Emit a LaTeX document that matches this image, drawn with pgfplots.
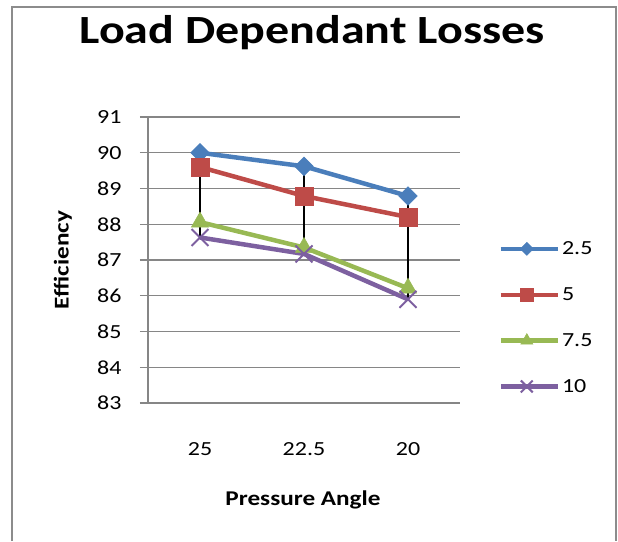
\documentclass[border=0pt]{standalone}
\usepackage{fontspec}
\setmainfont{Carlito}[FakeStretch=1.2]
\usepackage{pgfplots}
\pgfplotsset{compat=1.18}
\definecolor{sA}{HTML}{4A7EBB}
\definecolor{sB}{HTML}{BE4B48}
\definecolor{sC}{HTML}{98B954}
\definecolor{sD}{HTML}{7D60A0}
\definecolor{gridg}{HTML}{868686}
\definecolor{frameg}{HTML}{8C8C8C}
\begin{document}
\begin{tikzpicture}
\path[use as bounding box] (0pt,0pt) rectangle (618pt,541pt);
\draw[frameg, line width=2pt] (12pt,0pt) -- (12pt,534pt) -- (616pt,534pt) -- (616pt,0pt);
\begin{axis}[
  at={(148pt,138pt)}, anchor=south west,
  scale only axis, width=312pt, height=286pt,
  xmin=-0.5, xmax=2.5, ymin=83, ymax=91,
  xtick={0,1,2}, xticklabels={25,22.5,20},
  ytick={83,84,...,91},
  ymajorgrids, grid style={gridg, line width=1.3pt},
  axis x line=bottom, axis y line=left,
  axis line style={gridg, line width=1.3pt, -},
  xtick style={draw=none},
  ytick style={gridg, line width=1.3pt},
  tick align=outside, major tick length=8pt,
  /pgf/number format/assume math mode=true,
  ticklabel style={font=\fontsize{20}{24}\selectfont},
  yticklabel style={anchor=east, xshift=-15pt},
  xticklabel style={anchor=center, yshift=-38pt},
  title={\textbf{Load Dependant Losses}},
  title style={font=\fontsize{40}{48}\selectfont, at={(axis description cs:0.5,1)}, anchor=base, yshift=67pt, xshift=8pt},
  xlabel={\textbf{Pressure Angle}},
  xlabel style={font=\fontsize{21}{24}\selectfont, at={(axis description cs:0.5,0)}, anchor=center, yshift=-97pt, xshift=-1pt},
  ylabel={\textbf{Efficiency}},
  ylabel style={font=\fontsize{21}{24}\selectfont, at={(axis description cs:-0.2724,0.5)}, anchor=center},
  legend style={at={(1.123,0.572)}, anchor=north west, draw=none, fill=none, font=\fontsize{20}{24}\selectfont, row sep=27.5pt, inner sep=0pt},
  legend cell align=left,
  legend image code/.code={
    \path (0pt,0pt) -- (57pt,0pt);
    \draw[#1, mark=none, line width=3.5pt] (0pt,0pt) -- (52pt,0pt);
    \draw[#1, /tikz/every mark/.append style={scale=0.7}] plot coordinates {(26pt,0pt)};
  },
]
\addplot[sA, line width=4.5pt, mark=square*, mark size=6.6pt, mark options={rotate=45, line width=0.5pt}] coordinates {(0,90.0) (1,89.62) (2,88.79)};
\addlegendentry{2.5}
\addplot[sB, line width=4.5pt, mark=square*, mark size=9pt, mark options={line width=0.5pt}] coordinates {(0,89.6) (1,88.79) (2,88.2)};
\addlegendentry{5}
\addplot[sC, line width=4.5pt, mark=triangle*, mark size=10pt, mark options={line width=0.5pt}] coordinates {(0,88.06) (1,87.35) (2,86.21)};
\addlegendentry{7.5}
\addplot[sD, line width=4.5pt, mark=x, mark size=12pt, mark options={line width=2pt}] coordinates {(0,87.63) (1,87.17) (2,85.9)};
\addlegendentry{10}
\addplot[black, line width=2pt, forget plot] coordinates {(0,90.0) (0,87.63)};
\addplot[black, line width=2pt, forget plot] coordinates {(1,89.62) (1,87.17)};
\addplot[black, line width=2pt, forget plot] coordinates {(2,88.79) (2,85.9)};
\end{axis}
\end{tikzpicture}
\end{document}
